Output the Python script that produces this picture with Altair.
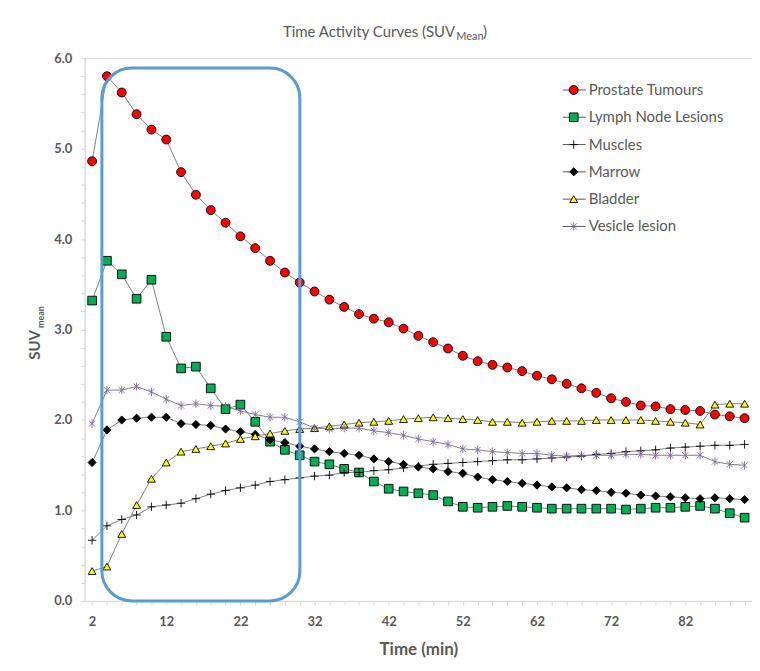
import altair as alt
import pandas as pd

FONT = "Lato"
GREY = "#595959"

times = list(range(2, 91, 2))
series_names = ["Prostate Tumours", "Lymph Node Lesions", "Muscles", "Marrow", "Bladder", "Vesicle lesion"]

prostate = [4.86, 5.80, 5.62, 5.38, 5.21, 5.10, 4.74, 4.49, 4.32, 4.18, 4.03, 3.90, 3.76, 3.63, 3.52,
            3.42, 3.33, 3.25, 3.17, 3.12, 3.08, 3.01, 2.93, 2.86, 2.79, 2.71, 2.65, 2.61, 2.58, 2.54,
            2.49, 2.45, 2.40, 2.35, 2.30, 2.24, 2.20, 2.16, 2.15, 2.12, 2.11, 2.10, 2.06, 2.04, 2.02]
lymph = [3.32, 3.76, 3.61, 3.34, 3.55, 2.92, 2.57, 2.59, 2.35, 2.12, 2.17, 1.98, 1.76, 1.67, 1.61,
         1.54, 1.51, 1.46, 1.42, 1.32, 1.24, 1.21, 1.19, 1.17, 1.10, 1.04, 1.03, 1.04, 1.05, 1.04,
         1.03, 1.02, 1.02, 1.02, 1.02, 1.02, 1.01, 1.02, 1.03, 1.03, 1.04, 1.05, 1.02, 0.97, 0.92]
muscles = [0.67, 0.83, 0.90, 0.95, 1.04, 1.06, 1.08, 1.13, 1.18, 1.22, 1.25, 1.28, 1.32, 1.34, 1.36,
           1.38, 1.39, 1.42, 1.42, 1.44, 1.45, 1.47, 1.49, 1.51, 1.52, 1.53, 1.54, 1.55, 1.56, 1.56,
           1.57, 1.58, 1.59, 1.60, 1.62, 1.63, 1.65, 1.66, 1.67, 1.69, 1.70, 1.71, 1.72, 1.72, 1.73]
marrow = [1.53, 1.89, 2.00, 2.02, 2.03, 2.03, 1.96, 1.95, 1.94, 1.90, 1.87, 1.84, 1.78, 1.75, 1.71,
          1.68, 1.65, 1.63, 1.61, 1.57, 1.54, 1.51, 1.48, 1.46, 1.43, 1.41, 1.37, 1.34, 1.32, 1.30,
          1.28, 1.26, 1.25, 1.23, 1.22, 1.20, 1.19, 1.17, 1.16, 1.15, 1.14, 1.13, 1.14, 1.13, 1.12]
bladder = [0.33, 0.38, 0.74, 1.06, 1.35, 1.53, 1.65, 1.68, 1.71, 1.74, 1.79, 1.82, 1.85, 1.88, 1.90,
           1.91, 1.93, 1.95, 1.97, 1.98, 1.99, 2.01, 2.02, 2.03, 2.02, 2.01, 2.00, 1.98, 1.98, 1.97,
           1.98, 1.99, 1.99, 1.99, 2.00, 2.00, 2.00, 2.00, 1.99, 1.98, 1.97, 1.95, 2.17, 2.18, 2.18]
vesicle = [1.96, 2.33, 2.33, 2.37, 2.31, 2.23, 2.16, 2.18, 2.16, 2.15, 2.10, 2.06, 2.03, 2.03, 1.98,
           1.91, 1.90, 1.91, 1.91, 1.88, 1.86, 1.83, 1.79, 1.76, 1.73, 1.68, 1.67, 1.65, 1.64, 1.63,
           1.63, 1.61, 1.60, 1.61, 1.61, 1.61, 1.62, 1.62, 1.61, 1.61, 1.61, 1.61, 1.54, 1.51, 1.50]

# highlighted window (time, SUV)
box_x = [3.32, 30.02]
box_y = [0.0, 5.89]

x_ticks = times
y_ticks = [round(i * 0.2, 1) for i in range(31)]

rows = []
for name, vals in zip(series_names, [prostate, lymph, muscles, marrow, bladder, vesicle]):
    for t, v in zip(times, vals):
        rows.append({"time": t, "suv": v, "series": name})
df = pd.DataFrame(rows)

shape_range = ["circle", "square", "M-1,0H1M0,-1V1", "diamond", "triangle-up",
               "M-0.8,-0.8L0.8,0.8M-0.8,0.8L0.8,-0.8M0,-1.1V1.1"]
fill_range = ["#FF0000", "#00B050", "transparent", "#000000", "#FFFF00", "transparent"]
stroke_range = ["#000000", "#000000", "#000000", "#000000", "#000000", "#8064A2"]
size_range = [80, 58, 70, 60, 100, 110]
sw_range = [0.9, 0.9, 1.1, 0.8, 0.9, 1.7]

xscale = alt.Scale(domain=[1, 91], nice=False, zero=False)
yscale = alt.Scale(domain=[0, 6], nice=False)

x_axis = alt.Axis(
    values=x_ticks, labelExpr="(datum.value - 2) % 10 == 0 ? datum.value : ''",
    grid=False, tickSize=4, tickColor="#d9d9d9", domainColor="#d9d9d9",
    labelFont=FONT, labelFontSize=13, labelFontWeight="bold", labelColor=GREY,
    labelPadding=11, labelOverlap=False, labelFlush=False,
    title="Time (min)", titleFont=FONT, titleFontSize=17, titleFontWeight="bold",
    titleColor=GREY, titlePadding=13)
y_axis = alt.Axis(
    values=y_ticks,
    labelExpr="abs(datum.value - round(datum.value)) < 0.01 ? format(datum.value, '.1f') : ''",
    grid=False, tickSize=4, tickColor="#d9d9d9", domainColor="#d9d9d9",
    labelFont=FONT, labelFontSize=13, labelFontWeight="bold", labelColor=GREY,
    labelPadding=9, labelOverlap=False, labelFlush=False, title=None)

X = alt.X("time:Q", scale=xscale, axis=x_axis)
Y = alt.Y("suv:Q", scale=yscale, axis=y_axis)

shape_enc = alt.Shape("series:N", scale=alt.Scale(domain=series_names, range=shape_range), legend=None)
fill_enc = alt.Fill("series:N", scale=alt.Scale(domain=series_names, range=fill_range), legend=None)
stroke_enc = alt.Stroke("series:N", scale=alt.Scale(domain=series_names, range=stroke_range), legend=None)
size_enc = alt.Size("series:N", scale=alt.Scale(domain=series_names, range=size_range), legend=None)
sw_enc = alt.StrokeWidth("series:N", scale=alt.Scale(domain=series_names, range=sw_range), legend=None)

lines = alt.Chart(df).mark_line(color="#808080", strokeWidth=1).encode(
    x=X, y=Y, detail="series:N", order="time:Q")
points = alt.Chart(df).mark_point(filled=True, opacity=1).encode(
    x=X, y=Y, shape=shape_enc, fill=fill_enc, stroke=stroke_enc, size=size_enc, strokeWidth=sw_enc)

box_df = pd.DataFrame({"x1": [box_x[0]], "x2": [box_x[1]], "y1": [box_y[0]], "y2": [box_y[1]]})
box = alt.Chart(box_df).mark_rect(fillOpacity=0, stroke="#5B9BD5", strokeWidth=3, cornerRadius=30).encode(
    x=alt.X("x1:Q", scale=xscale, axis=x_axis), x2="x2:Q",
    y=alt.Y("y1:Q", scale=yscale, axis=y_axis), y2="y2:Q")

def txt(s, **kw):
    return alt.Chart(pd.DataFrame({"t": [s]})).mark_text(font=FONT, color=GREY, **kw).encode(text="t:N")

title_main = txt("Time Activity Curves (SUV", align="right", baseline="alphabetic", fontSize=15).encode(
    x=alt.value(372), y=alt.value(-21))
title_sub = txt("Mean", align="left", baseline="alphabetic", fontSize=11).encode(
    x=alt.value(373), y=alt.value(-18))
title_end = txt(")", align="left", baseline="alphabetic", fontSize=15).encode(
    x=alt.value(400), y=alt.value(-21))
ytitle_main = txt("SUV", align="right", baseline="alphabetic", fontSize=15, fontWeight="bold", angle=270).encode(
    x=alt.value(-45), y=alt.value(273))
ytitle_sub = txt("mean", align="left", baseline="alphabetic", fontSize=9, fontWeight="bold", angle=270).encode(
    x=alt.value(-41), y=alt.value(271))

main = alt.layer(lines, points, box, title_main, title_sub, title_end, ytitle_main, ytitle_sub)

leg_df = pd.DataFrame({"series": series_names})
leg_y = alt.Y("series:N", scale=alt.Scale(type="point", domain=series_names, range=[32, 169], padding=0), axis=None)
leg_line = alt.Chart(leg_df).mark_rule(color=GREY, strokeWidth=1).encode(
    x=alt.value(480), x2=alt.value(503), y=leg_y)
leg_pts = alt.Chart(leg_df).mark_point(filled=True, opacity=1).encode(
    x=alt.value(491), y=leg_y, shape=shape_enc, fill=fill_enc, stroke=stroke_enc, size=size_enc, strokeWidth=sw_enc)
leg_txt = alt.Chart(leg_df).mark_text(align="left", baseline="middle", font=FONT, fontSize=15, color=GREY).encode(
    x=alt.value(506), y=leg_y, text="series:N")
legend = alt.layer(leg_line, leg_pts, leg_txt)

chart = alt.layer(main, legend).resolve_scale(y="independent").properties(
    width=670, height=545,
    padding={"left": 77, "top": 49, "right": 0, "bottom": 60},
    autosize=alt.AutoSizeParams(type="none"),
    background="white",
).configure_view(stroke="#d9d9d9", strokeWidth=1).configure_axis(labelOverlap=False)

chart.save("out.html", embed_options={"renderer": "svg", "actions": False})
